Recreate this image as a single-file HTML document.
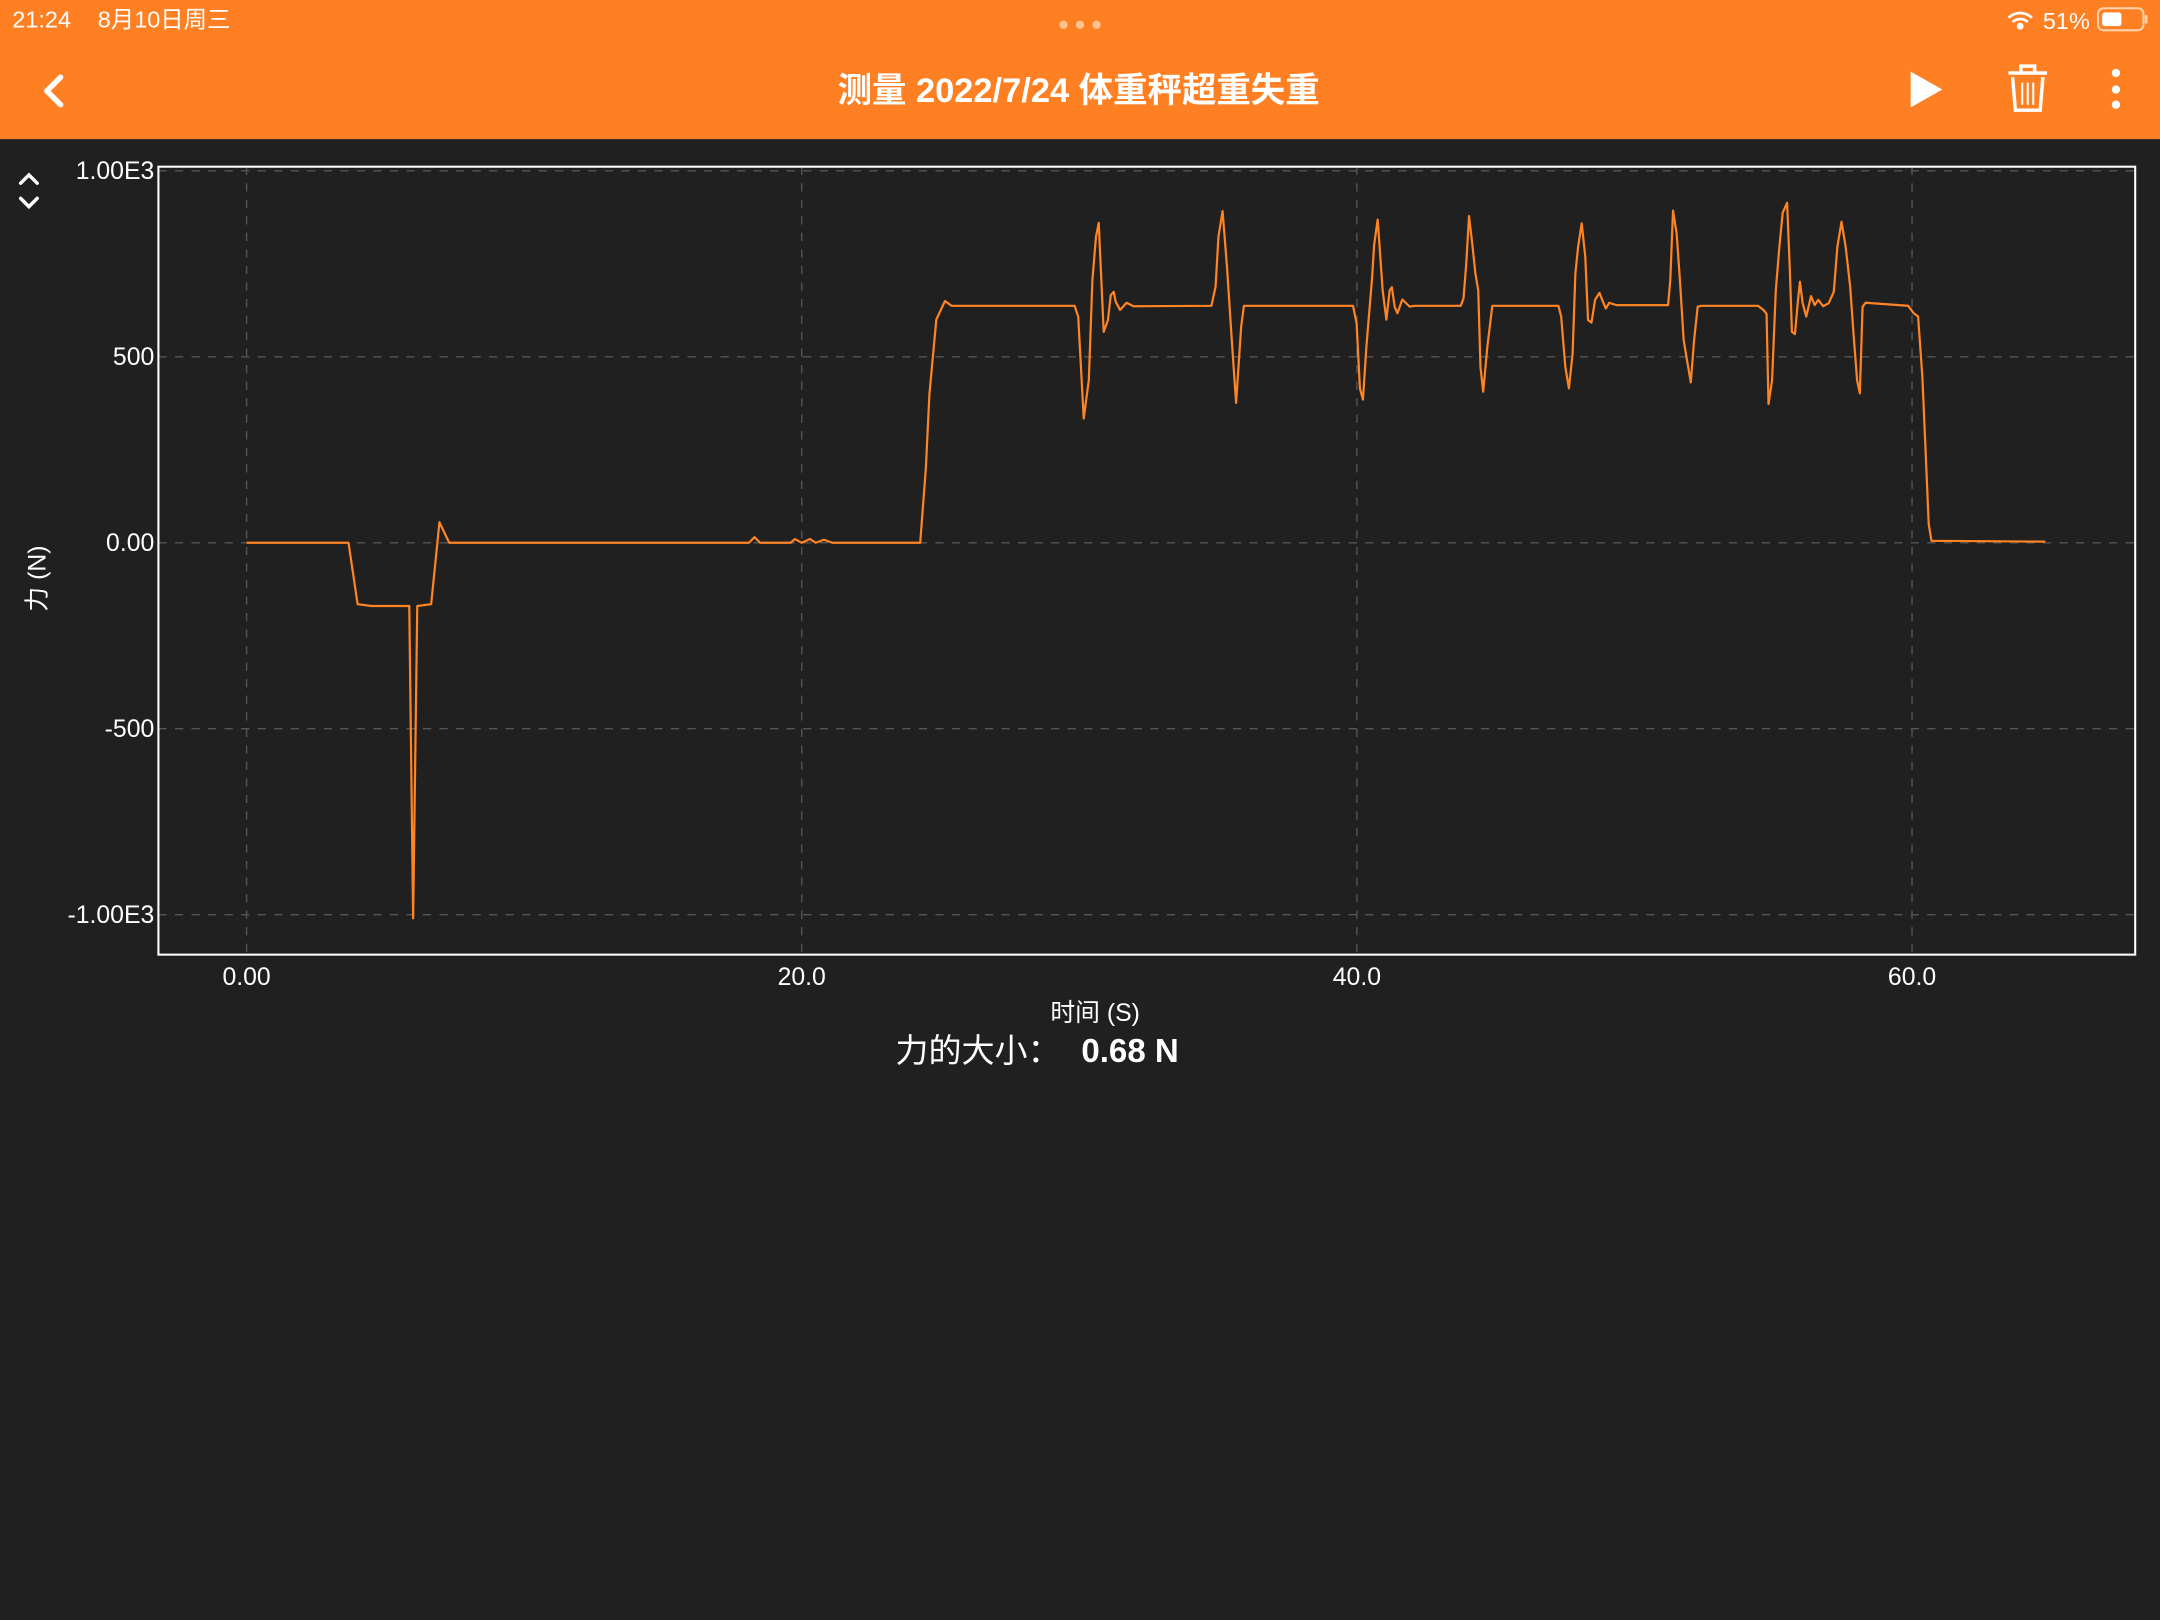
<!DOCTYPE html>
<html><head><meta charset="utf-8"><style>
html,body{margin:0;padding:0;background:#202020;}
svg{display:block;font-family:"Liberation Sans","Noto Sans CJK SC",sans-serif;}
</style></head><body>
<svg id="page" width="2160" height="1620" viewBox="0 0 1568 1176" xmlns="http://www.w3.org/2000/svg">
<rect x="0" y="0" width="1568" height="1176" fill="#202020"/>
<g>
<rect x="0" y="0" width="1568" height="101" fill="#FF7F23"/>
<text x="9" y="20" fill="#fff" font-size="17">21:24</text>
<text x="71" y="20" fill="#fff" font-size="17">8月10日周三</text>
<g fill="#FFC58F"><circle cx="772" cy="18" r="3"/><circle cx="784" cy="18" r="3"/><circle cx="796" cy="18" r="3"/></g>
<g fill="none" stroke="#fff" stroke-width="2"><path d="M1458 13 a12 12 0 0 1 17 0"/><path d="M1461 16 a8 8 0 0 1 11 0"/><circle cx="1466.5" cy="19" r="1.5" fill="#fff"/></g>
<text x="1483" y="21" fill="#fff" font-size="17">51%</text>
<g><rect x="1523" y="6" width="33" height="16" rx="4" fill="none" stroke="#ffd2aa" stroke-width="1.5"/><rect x="1526" y="9" width="14" height="10" rx="2" fill="#fff"/><rect x="1557" y="11" width="2" height="6" fill="#ffd2aa"/></g>
<path d="M44 56 L34 66 L44 76" fill="none" stroke="#fff" stroke-width="4" stroke-linecap="round" stroke-linejoin="round"/>
<text x="783" y="74" fill="#fff" font-size="25" font-weight="bold" text-anchor="middle">测量 2022/7/24 体重秤超重失重</text>
<path d="M1387 52 L1410 65 L1387 78 Z" fill="#fff"/>
<g fill="none" stroke="#fff" stroke-width="2.5"><path d="M1458 53 H1486"/><path d="M1467 53 V48 H1477 V53"/><path d="M1461 56 L1463 80 H1481 L1483 56"/><path d="M1468 60 V76 M1472 60 V76 M1476 60 V76" stroke-width="1.5"/></g>
<g fill="#fff"><circle cx="1536" cy="53" r="3"/><circle cx="1536" cy="65" r="3"/><circle cx="1536" cy="76" r="3"/></g>
</g>
<g fill="none" stroke="#fff" stroke-width="2.5" stroke-linecap="round"><path d="M15 133 L21 127 L27 133"/><path d="M15 144 L21 150 L27 144"/></g>
<g id="grid"></g>
<rect x="115" y="121" width="1435" height="572" fill="none" stroke="#fff" stroke-width="1.5"/>
<g id="yticks"></g>
<g id="xticks"></g>
<text transform="translate(33,420) rotate(-90)" fill="#fff" font-size="18" text-anchor="middle">力 (N)</text>
<text x="795" y="741" fill="#fff" font-size="18" text-anchor="middle">时间 (S)</text>
<text x="650" y="771" fill="#fff" font-size="24">力的大小：</text>
<text x="785" y="771" fill="#fff" font-size="24" font-weight="bold">0.68 N</text>
<path id="series" fill="none" stroke="#FF8424" stroke-width="1.6" stroke-linejoin="round"/>
</svg>
<script>
const xTicks=[0,20,40,60];
const xTickLabels=["0.00","20.0","40.0","60.0"];
const yTicks=[1000,500,0,-500,-1000];
const yTickLabels=["1.00E3","500","0.00","-500","-1.00E3"];
const times=[0,3.67,4.0,4.5,5.86,6.0,6.15,6.65,6.95,7.3,18.1,18.3,18.5,19.6,19.75,20.0,20.3,20.5,20.8,21.1,24.27,24.47,24.6,24.85,25.16,25.4,29.83,29.96,30.16,30.34,30.47,30.6,30.7,30.88,31.03,31.13,31.24,31.31,31.47,31.7,31.95,34.76,34.91,35.01,35.16,35.32,35.47,35.65,35.83,35.93,39.86,39.99,40.11,40.22,40.34,40.55,40.62,40.75,40.93,41.06,41.18,41.26,41.36,41.46,41.64,41.9,42.08,43.74,43.84,43.94,44.04,44.17,44.27,44.37,44.45,44.55,44.7,44.88,47.26,47.36,47.51,47.64,47.77,47.87,47.97,48.1,48.23,48.33,48.45,48.58,48.74,48.84,48.97,49.09,49.35,51.21,51.29,51.39,51.52,51.64,51.77,51.9,52.03,52.15,52.28,52.41,54.45,54.65,54.76,54.83,54.96,55.09,55.22,55.34,55.5,55.6,55.67,55.78,55.88,55.96,56.06,56.19,56.36,56.49,56.62,56.8,57.0,57.18,57.31,57.46,57.61,57.77,57.89,58.02,58.12,58.22,58.33,59.86,60.06,60.22,60.37,60.47,60.6,60.7,64.8];
const forces=[0,0,-165,-170,-170,-1010,-170,-165,55,0,0,15,0,0,10,0,10,0,8,0,0,200,400,600,650,637,637,608,334,437,706,823,860,567,599,666,675,648,626,645,636,637,688,823,892,742,572,376,581,637,637,590,415,385,527,715,800,869,679,600,679,687,635,617,654,635,637,637,657,751,878,796,724,679,473,406,527,637,637,608,473,415,509,724,796,859,769,599,592,653,672,653,630,645,639,639,706,893,832,706,545,487,431,545,635,637,637,626,615,373,437,679,796,887,914,733,567,561,644,702,644,608,663,639,653,636,644,675,796,863,796,688,563,437,402,635,645,637,617,608,446,276,50,5,3];
function sx(t){return 179+(1388-179)*t/60;}
function sy(v){return 394-(394-124)*v/1000;}
const NS="http://www.w3.org/2000/svg";
const grid=document.getElementById('grid');
xTicks.forEach(t=>{const l=document.createElementNS(NS,'line');


l.setAttribute('x1',sx(t));l.setAttribute('x2',sx(t));l.setAttribute('y1',121);l.setAttribute('y2',693);
l.setAttribute('stroke','#555');l.setAttribute('stroke-dasharray','6 6');grid.appendChild(l);});
yTicks.forEach(v=>{const l=document.createElementNS(NS,'line');


l.setAttribute('x1',115);l.setAttribute('x2',1550);l.setAttribute('y1',sy(v));l.setAttribute('y2',sy(v));
l.setAttribute('stroke','#555');l.setAttribute('stroke-dasharray','6 6');grid.appendChild(l);});
const yg=document.getElementById('yticks');
yTicks.forEach((v,i)=>{const t=document.createElementNS(NS,'text');


t.setAttribute('x',112);t.setAttribute('y',sy(v)+6);t.setAttribute('fill','#fff');t.setAttribute('font-size','18');t.setAttribute('text-anchor','end');
t.textContent=yTickLabels[i];yg.appendChild(t);});
const xg=document.getElementById('xticks');
xTicks.forEach((v,i)=>{const t=document.createElementNS(NS,'text');


t.setAttribute('x',sx(v));t.setAttribute('y',715);t.setAttribute('fill','#fff');t.setAttribute('font-size','18');t.setAttribute('text-anchor','middle');
t.textContent=xTickLabels[i];xg.appendChild(t);});
let d='';
times.forEach((t,i)=>{d+=(i?'L':'M')+sx(t).toFixed(1)+' '+sy(forces[i]).toFixed(1)+' ';});
document.getElementById('series').setAttribute('d',d);
</script>
</body></html>
